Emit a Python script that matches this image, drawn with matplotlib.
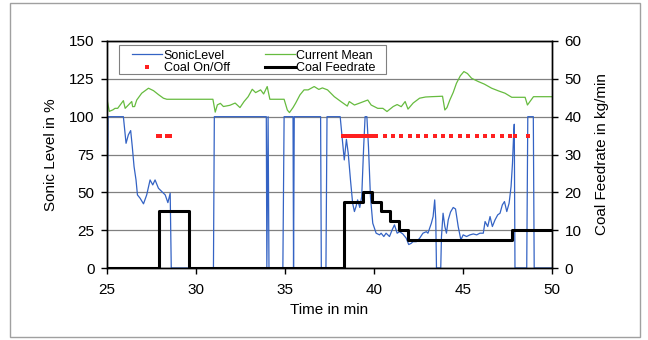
import matplotlib.pyplot as plt
from matplotlib.patches import Rectangle

plt.rcParams["font.family"] = ["Liberation Sans", "DejaVu Sans"]

# sonic level (left axis, %)
sonic_t = [25.0, 25.06, 25.92, 26.07, 26.2, 26.33, 26.42, 26.52, 26.63, 26.71, 26.86,
           27.05, 27.23, 27.42, 27.57, 27.7, 27.89, 28.08, 28.27, 28.42, 28.55, 28.61,
           30.98, 31.03, 33.95, 33.98, 34.05, 34.1, 34.88, 34.95, 35.45, 35.48, 35.52,
           37.0, 37.04, 37.3, 37.36, 38.1, 38.22, 38.33, 38.45, 38.55, 38.68, 38.8,
           38.9, 38.99, 39.08, 39.2, 39.31, 39.42, 39.5, 39.6, 39.69, 39.8, 39.93,
           40.12, 40.31, 40.4, 40.55, 40.68, 40.87, 41.02, 41.15, 41.3, 41.44, 41.62,
           41.81, 41.95, 42.09, 42.19, 42.38, 42.56, 42.75, 42.94, 43.03, 43.22, 43.32,
           43.41, 43.47, 43.51, 43.75, 43.79, 43.88, 43.98, 44.07, 44.17, 44.3, 44.45,
           44.58, 44.73, 44.88, 45.01, 45.2, 45.39, 45.58, 45.77, 45.95, 46.14, 46.24,
           46.39, 46.52, 46.65, 46.8, 46.95, 47.08, 47.21, 47.33, 47.46, 47.59, 47.7,
           47.78, 47.84, 47.88, 47.92, 48.58, 48.64, 48.95, 49.0, 50.0]
sonic_v = [0, 100, 100, 82.4, 88, 90.8, 80.2, 67, 58.2, 48.3, 46.1,
           42.4, 48.3, 58.2, 54.9, 58.2, 52.7, 50.5, 48.3, 43.2, 49.4, 0,
           0, 100, 100, 0, 100, 0, 0, 100, 100, 0, 100,
           100, 0, 0, 100, 100, 85, 71.4, 85, 76, 58, 42.8,
           37.3, 40.6, 45, 40, 47.2, 80.2, 100, 100, 80, 47.2, 29.6,
           23, 21.9, 23, 20.8, 23, 20.8, 25.2, 28.5, 23, 24, 22.5,
           19.7, 15.5, 16.3, 17.4, 17.4, 19.6, 23, 24, 23, 29.5, 34,
           45, 31.8, 0, 0, 20.7, 36.2, 27.4, 23, 31.8, 37, 40,
           39, 27.4, 18.6, 21.9, 20.8, 21.9, 22.5, 21.9, 23, 23, 30.7,
           27.4, 34, 27.4, 31.8, 35.1, 36.2, 41.7, 43.9, 37.3, 42.8, 53.8,
           69.2, 86.8, 95, 0, 0, 100, 100, 0, 0]

# current mean (left axis)
mean_t = [25.0, 25.13, 25.33, 25.45, 25.6, 25.92, 26.02, 26.39, 26.44, 26.55, 26.67,
          26.95, 27.33, 27.61, 27.9, 28.17, 28.36, 30.95, 31.08, 31.2, 31.37, 31.54,
          31.9, 32.2, 32.47, 32.7, 32.93, 33.16, 33.35, 33.63, 33.8, 34.0, 34.15,
          34.95, 35.13, 35.25, 35.45, 35.6, 35.84, 36.07, 36.3, 36.64, 36.9, 37.1,
          37.39, 37.77, 38.14, 38.5, 38.61, 38.9, 39.2, 39.65, 39.84, 40.21, 40.5,
          40.73, 41.08, 41.3, 41.53, 41.75, 41.91, 42.2, 42.56, 42.9, 43.22, 43.85,
          43.98, 44.1, 44.26, 44.45, 44.63, 44.85, 45.05, 45.25, 45.48, 45.86, 46.2,
          46.61, 47.0, 47.36, 47.74, 48.49, 48.62, 48.96, 50.0]
mean_v = [111.5, 103.5, 104.5, 105.5, 105.5, 110.6, 105.5, 110, 106.6, 106.7, 111,
          115.5, 118.8, 117.2, 114.5, 112.2, 111.5, 111.5, 103, 107.8, 108.8, 106.7,
          107.5, 109, 106, 110, 113.2, 118.1, 115.9, 117.7, 115, 119.9, 111.5,
          111.5, 104.4, 102.7, 106, 109, 114.4, 117.7, 117.7, 119.9, 118, 119,
          117.7, 113.2, 110, 107, 110, 107.7, 109, 111, 107.7, 105.5, 105.5,
          103.4, 106.7, 108, 106.6, 110, 105, 109, 112.2, 113, 113.2, 113.5,
          104.4, 106, 111, 116, 122, 127, 129.8, 128.5, 125.4, 123.2, 121.5,
          118.8, 117, 115.5, 112.8, 112.8, 107.7, 113.2, 113.2]

# coal on/off markers (left axis level)
onoff_t = [27.85, 27.98, 28.38, 28.52,
           38.25, 38.45, 38.65, 38.85, 39.05, 39.25, 39.45, 39.65, 39.9,
           40.12, 40.59, 41.06, 41.53, 42.0, 42.47, 42.94, 43.41, 43.88, 44.35,
           44.82, 45.29, 45.76, 46.23, 46.7, 47.17, 47.64, 47.9, 48.64]
onoff_level = 87.5

# coal feedrate (right axis, kg/min), step
feed_t = [25, 27.9, 29.6, 38.3, 39.4, 39.87, 40.37, 40.9, 41.4, 41.9, 47.75, 50]
feed_v = [0, 15, 0, 17.5, 20, 17.5, 15, 12.5, 10, 7.5, 10, 10]

fig = plt.figure(figsize=(6.48, 3.40), dpi=100)
fig.patches.append(Rectangle((10 / 648, 3 / 340), 630 / 648, 334 / 340,
                             transform=fig.transFigure, fill=False,
                             edgecolor="#a0a0a0", linewidth=1))
ax = fig.add_axes([107 / 648, 72 / 340, 445 / 648, 227 / 340])
ax2 = ax.twinx()

ax.grid(axis="y", color="#808080", linewidth=0.9)
ax.set_axisbelow(True)
l1, = ax.plot(sonic_t, sonic_v, color="#3463C4", linewidth=0.9, label="SonicLevel")
l2, = ax.plot(mean_t, mean_v, color="#66BB3F", linewidth=0.9, label="Current Mean")
l3, = ax.plot(onoff_t, [onoff_level] * len(onoff_t), linestyle="none", marker="s",
              markersize=2.8, color="#FF2020", markeredgewidth=0, label="Coal On/Off")
l4, = ax2.plot(feed_t, feed_v, color="black", linewidth=2.2, drawstyle="steps-post",
               label="Coal Feedrate")

ax.set_xlim(25, 50)
ax.set_ylim(0, 150)
ax2.set_ylim(0, 60)
ax.set_xticks(range(25, 51, 5))
ax.set_yticks(range(0, 151, 25))
ax2.set_yticks(range(0, 61, 10))
for a in (ax, ax2):
    a.tick_params(direction="out", length=4, width=1, labelsize=11, pad=5)
    for s in a.spines.values():
        s.set_linewidth(1)
ax.tick_params(axis="x", pad=7)
ax.set_xlabel("Time in min", fontsize=11, labelpad=4)
ax.set_ylabel("Sonic Level in %", fontsize=11, labelpad=8)
ax2.set_ylabel("Coal Feedrate in kg/min", fontsize=11, labelpad=10)

# legend box drawn separately (wider side padding than top/bottom)
ax2.add_patch(Rectangle((0.027, 0.855), 0.6, 0.128, transform=ax2.transAxes,
                        facecolor="white", edgecolor="#808080", linewidth=0.8,
                        zorder=4.5))
leg = ax2.legend([l1, l3, l2, l4], ["SonicLevel", "Coal On/Off", "Current Mean", "Coal Feedrate"],
                 ncol=2, loc="upper left", bbox_to_anchor=(0.0555, 0.962),
                 fontsize=9, handlelength=2.4, handletextpad=0.15,
                 labelspacing=0.05, columnspacing=2.8, borderpad=0,
                 frameon=False, borderaxespad=0)

fig.savefig("out.png", dpi=100)
